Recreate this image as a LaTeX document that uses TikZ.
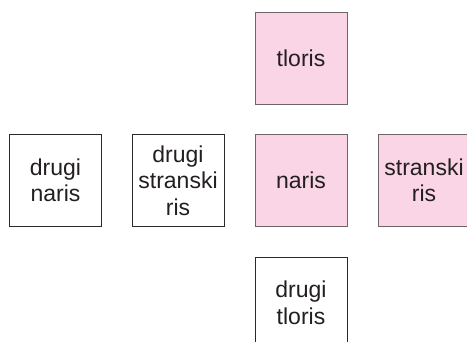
\documentclass[tikz,border=0pt]{standalone}
\usepackage{fontspec}
\setmainfont{Liberation Sans}
\definecolor{pinkfill}{RGB}{250,213,230}
\definecolor{pinkline}{RGB}{110,100,105}
\definecolor{darkline}{RGB}{45,40,40}
\definecolor{txt}{RGB}{35,31,32}
\begin{document}
\begin{tikzpicture}[x=1pt,y=-1pt,
  viewbox/.style={draw=darkline, line width=1pt, fill=white, minimum width=92pt, minimum height=92pt,
    inner sep=0pt, align=center, text=txt, font=\fontsize{23}{26.5}\selectfont},
  pinkbox/.style={viewbox, fill=pinkfill, draw=pinkline}]
\useasboundingbox (0,0) rectangle (467,341);
\clip (0,0) rectangle (467,341);
\node[pinkbox] (tloris) at (301,58) {tloris};
\node[pinkbox] (naris) at (301,180.5) {naris};
\node[pinkbox] (stranski) at (424,180.5) {stranski\\ris};
\node[viewbox] (dnaris) at (55.5,180.5) {drugi\\naris};
\node[viewbox] (dstranski) at (178,180.5) {drugi\\stranski\\ris};
\node[viewbox] (dtloris) at (301,303) {drugi\\tloris};
\end{tikzpicture}
\end{document}
